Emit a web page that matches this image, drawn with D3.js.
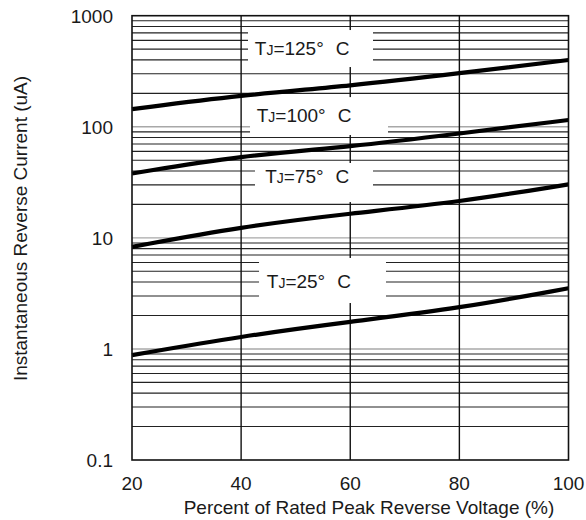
<!DOCTYPE html>
<html>
<head>
<meta charset="utf-8">
<script src="https://cdn.jsdelivr.net/npm/d3@7"></script>
<style>
  html, body { margin: 0; padding: 0; background: #fff; }
  svg { display: block; }
  text { font-family: "Liberation Sans", Arial, sans-serif; fill: #1a1a1a; }
</style>
</head>
<body>
<svg id="chart" width="586" height="520"></svg>
<script>
// ---------- data ----------
const voltagePct = [20, 40, 60, 80, 100];
const current125 = [144, 193, 233, 303, 399];
const current100 = [38, 55, 66, 87, 115];
const current75  = [8.3, 12.6, 16.6, 21, 30.3];
const current25  = [0.88, 1.3, 1.76, 2.32, 3.52];

const xTicks = [20, 40, 60, 80, 100];
const yTicks = [0.1, 1, 10, 100, 1000];
const yTickLabels = ["0.1", "1", "10", "100", "1000"];

const seriesTemps = ["125", "100", "75", "25"];
// label anchors in data units: [x %, y uA]
const labelAnchor125 = [42.5, 443];
const labelAnchor100 = [42.85, 111];
const labelAnchor75  = [44.4, 31.0];
const labelAnchor25  = [44.7, 3.54];
// label background boxes in data units: [x0, x1, yTop, yBottom]
const labelBox125 = [41.26, 64.17, 743, 345];
const labelBox100 = [41.63, 66.92, 185, 84.3];
const labelBox75  = [42.54, 64.17, 47.2, 21.0];
const labelBox25  = [43.28, 66.55, 6.59, 2.59];

const xTitle = "Percent of Rated Peak Reverse Voltage (%)";
const yTitle = "Instantaneous Reverse Current (uA)";

// ---------- drawing ----------
const svg = d3.select("#chart");
const pLeft = 132, pRight = 568.5, pTop = 15.7, pBottom = 460;

const x = d3.scaleLinear().domain([20, 100]).range([pLeft, pRight]);
const y = d3.scaleLog().domain([0.1, 1000]).range([pBottom, pTop]);

const g = svg.append("g");

// minor horizontal gridlines (2..9 of each decade)
const minor = [];
[0.1, 1, 10, 100].forEach(d => { for (let k = 2; k <= 9; k++) minor.push(d * k); });
g.selectAll("line.minor").data(minor).enter().append("line")
  .attr("x1", pLeft).attr("x2", pRight)
  .attr("y1", d => y(d)).attr("y2", d => y(d))
  .attr("stroke", "#222").attr("stroke-width", 1.1);

// decade lines (gray)
g.selectAll("line.decade").data([1, 10, 100]).enter().append("line")
  .attr("x1", pLeft).attr("x2", pRight)
  .attr("y1", d => y(d)).attr("y2", d => y(d))
  .attr("stroke", "#a8a8a8").attr("stroke-width", 1.4);

// vertical gridlines
g.selectAll("line.vgrid").data(xTicks.slice(1, -1)).enter().append("line")
  .attr("x1", d => x(d)).attr("x2", d => x(d))
  .attr("y1", pTop).attr("y2", pBottom)
  .attr("stroke", "#111").attr("stroke-width", 1.4);

// label boxes
const boxes = [labelBox125, labelBox100, labelBox75, labelBox25];
g.selectAll("rect.lbox").data(boxes).enter().append("rect")
  .attr("x", d => x(d[0])).attr("width", d => x(d[1]) - x(d[0]))
  .attr("y", d => y(d[2])).attr("height", d => y(d[3]) - y(d[2]))
  .attr("fill", "#fff");

// labels
const anchors = [labelAnchor125, labelAnchor100, labelAnchor75, labelAnchor25];
anchors.forEach((a, i) => {
  const t = g.append("text")
    .attr("x", x(a[0])).attr("y", y(a[1]))
    .attr("font-size", 19);
  t.append("tspan").text("T");
  t.append("tspan").attr("font-size", 14).text("J");
  t.append("tspan").text("=" + seriesTemps[i] + "°");
  t.append("tspan").attr("dx", 12).text("C");
});

// curves
const seriesVals = [current125, current100, current75, current25];
const line = d3.line()
  .x((d, i) => x(voltagePct[i]))
  .y(d => y(d))
  .curve(d3.curveBasis);
g.selectAll("path.curve").data(seriesVals).enter().append("path")
  .attr("d", d => line(d))
  .attr("fill", "none").attr("stroke", "#000").attr("stroke-width", 4.2);

// frame
g.append("rect")
  .attr("x", pLeft).attr("y", pTop)
  .attr("width", pRight - pLeft).attr("height", pBottom - pTop)
  .attr("fill", "none").attr("stroke", "#111").attr("stroke-width", 1.6);

// y tick labels
g.selectAll("text.ytick").data(yTicks).enter().append("text")
  .attr("x", 113).attr("y", d => y(d))
  .attr("dy", "0.36em")
  .attr("text-anchor", "end").attr("font-size", 19)
  .text((d, i) => yTickLabels[i]);

// x tick labels
g.selectAll("text.xtick").data(xTicks).enter().append("text")
  .attr("x", d => x(d)).attr("y", 490)
  .attr("text-anchor", "middle").attr("font-size", 19)
  .text(d => d);

// axis titles
g.append("text")
  .attr("x", 369).attr("y", 514)
  .attr("text-anchor", "middle").attr("font-size", 19)
  .text(xTitle);

g.append("text")
  .attr("transform", "translate(27,228.5) rotate(-90)")
  .attr("text-anchor", "middle").attr("font-size", 19)
  .text(yTitle);
</script>
</body>
</html>
